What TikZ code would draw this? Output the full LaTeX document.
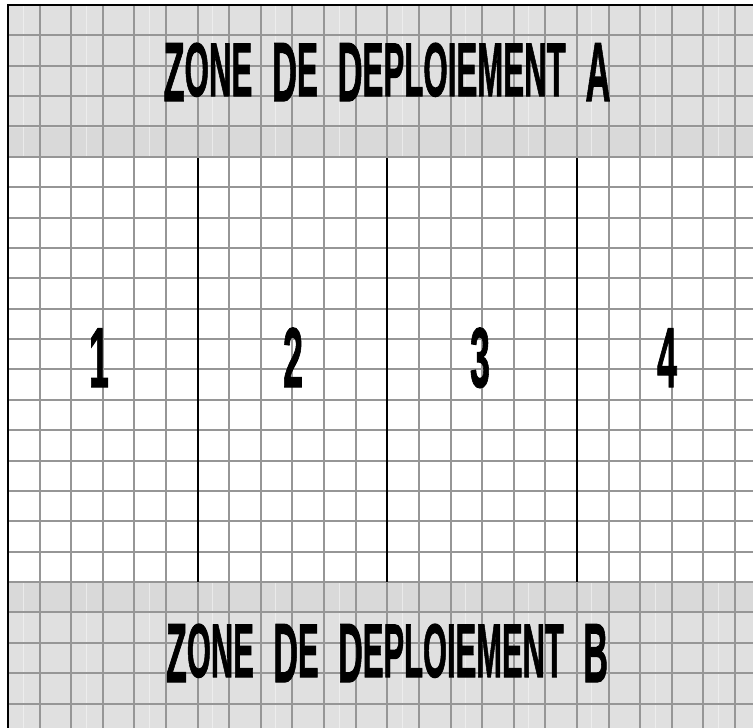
\documentclass[tikz,border=0pt]{standalone}
\usepackage{fontspec}
\setmainfont{Liberation Sans}[BoldFont={* Bold},BoldFeatures={FakeBold=1.5}]
\definecolor{zonegray}{HTML}{E0E0E0}
\definecolor{zonedark}{HTML}{D9D9D9}
\definecolor{gridgray}{HTML}{969696}
\newcommand\zbig[1]{{\fontsize{84}{84}\selectfont\raisebox{-5pt}{#1}}}
\newcommand\zsmall[1]{{\fontsize{76}{76}\selectfont #1}}
\newcommand\zgap{\hspace{48pt}}
\newsavebox\titlebox
\newcommand\fittitle[2]{%
  \sbox\titlebox{\bfseries #2}%
  \pgfmathsetmacro\titlescale{#1/\wd\titlebox}%
  \scalebox{\titlescale}[1]{\usebox\titlebox}}
\tikzset{
  gridline/.style={draw=gridgray,line width=2pt},
  faintline/.style={draw=white,draw opacity=0.45,line width=1pt},
  borderline/.style={draw=black,line width=2.7pt},
  divider/.style={draw=black,line width=2.8pt},
  titletext/.style={anchor=base,inner sep=0pt},
  numtext/.style={anchor=base,inner sep=0pt,font=\bfseries\fontsize{85}{85}\selectfont}
}
\begin{document}
\begin{tikzpicture}[x=1pt,y=-1pt]
\useasboundingbox (0,0) rectangle (753,728);
\fill[white] (0,0) rectangle (753,728);
% deployment zones
\fill[zonegray] (8,5) rectangle (753,158);
\fill[zonedark] (8,128) rectangle (753,158);
\fill[zonegray] (8,582) rectangle (753,728);
\fill[zonedark] (8,582) rectangle (753,612);
\foreach \k in {0,...,11}{
  \draw[faintline] ({23+63.22*\k},5) -- ({23+63.22*\k},158);
  \draw[faintline] ({23+63.22*\k},582) -- ({23+63.22*\k},728);
}
% grid
\foreach \k in {1,...,23}{
  \draw[gridline] ({8+31.61*\k},5) -- ({8+31.61*\k},728);
  \draw[gridline] (8,{5+30.37*\k}) -- (753,{5+30.37*\k});
}
% borders
\draw[borderline] (8,728) -- (8,5) -- (753,5);
% column dividers
\foreach \x in {198,387,577}{
  \draw[divider] (\x,158) -- (\x,582);
}
% titles
\node[titletext] (zoneA) at (387,96) {\fittitle{447}{\zbig{Z}\zsmall{ONE}\zgap\zbig{D}\zsmall{E}\zgap\zbig{D}\zsmall{EPLOIEMENT}\zgap\zbig{A}}};
\node[titletext] (zoneB) at (387,677) {\fittitle{442}{\zbig{Z}\zsmall{ONE}\zgap\zbig{D}\zsmall{E}\zgap\zbig{D}\zsmall{EPLOIEMENT}\zgap\zbig{B}}};
% column numbers
\node[numtext] (n1) at (99,387) {\scalebox{0.42}[1]{1}};
\node[numtext] (n2) at (293,387) {\scalebox{0.42}[1]{2}};
\node[numtext] (n3) at (480,387) {\scalebox{0.42}[1]{3}};
\node[numtext] (n4) at (667,387) {\scalebox{0.42}[1]{4}};
\end{tikzpicture}
\end{document}
